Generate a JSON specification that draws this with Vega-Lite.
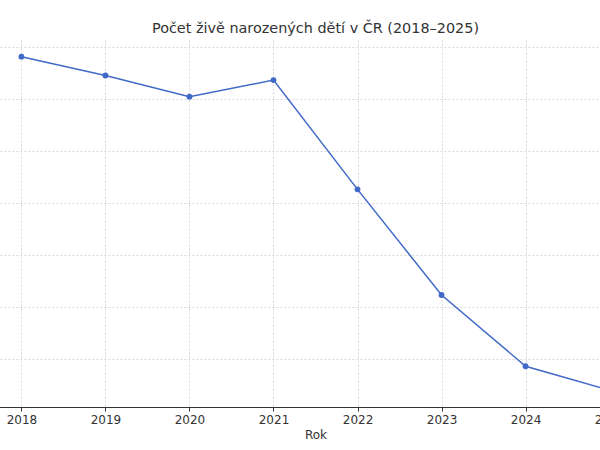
{
  "$schema": "https://vega.github.io/schema/vega-lite/v6.json",
  "width": 647,
  "height": 367,
  "autosize": {"type": "none"},
  "padding": {"left": -8, "top": 40, "right": -39, "bottom": 43},
  "background": "white",
  "config": {
    "view": {"stroke": null},
    "font": "DejaVu Sans"
  },
  "title": {
    "text": "Počet živě narozených dětí v ČR (2018–2025)",
    "fontSize": 14.4,
    "fontWeight": "normal",
    "color": "#333333",
    "font": "DejaVu Sans",
    "offset": 4
  },
  "data": {
    "values": [
      {"Rok": 2018, "Pocet": 114036},
      {"Rok": 2019, "Pocet": 112231},
      {"Rok": 2020, "Pocet": 110200},
      {"Rok": 2021, "Pocet": 111793},
      {"Rok": 2022, "Pocet": 101299},
      {"Rok": 2023, "Pocet": 91157},
      {"Rok": 2024, "Pocet": 84311},
      {"Rok": 2025, "Pocet": 82000}
    ]
  },
  "encoding": {
    "x": {
      "field": "Rok",
      "type": "quantitative",
      "scale": {"domain": [2017.65, 2025.35], "nice": false, "zero": false},
      "axis": {
        "title": "Rok",
        "values": [2018, 2019, 2020, 2021, 2022, 2023, 2024, 2025],
        "format": "d",
        "labelFontSize": 12,
        "labelColor": "#333333",
        "labelPadding": 3,
        "labelFlush": false,
        "labelOverlap": false,
        "titleFontSize": 12,
        "titleFontWeight": "normal",
        "titleColor": "#333333",
        "titlePadding": 4,
        "domainColor": "#333333",
        "domainWidth": 1.2,
        "tickColor": "#333333",
        "tickSize": 4,
        "grid": true,
        "gridColor": "#cccccc",
        "gridDash": [2, 2],
        "gridWidth": 0.8
      }
    },
    "y": {
      "field": "Pocet",
      "type": "quantitative",
      "scale": {"domain": [80400, 115640], "nice": false, "zero": false},
      "axis": {
        "title": null,
        "values": [85000, 90000, 95000, 100000, 105000, 110000, 115000],
        "labels": false,
        "ticks": false,
        "domain": false,
        "grid": true,
        "gridColor": "#cccccc",
        "gridDash": [2, 2],
        "gridWidth": 0.8
      }
    }
  },
  "layer": [
    {"mark": {"type": "line", "color": "#4169c8", "strokeWidth": 1.5}},
    {"mark": {"type": "point", "filled": true, "color": "#4169c8", "size": 34, "opacity": 1}}
  ]
}
